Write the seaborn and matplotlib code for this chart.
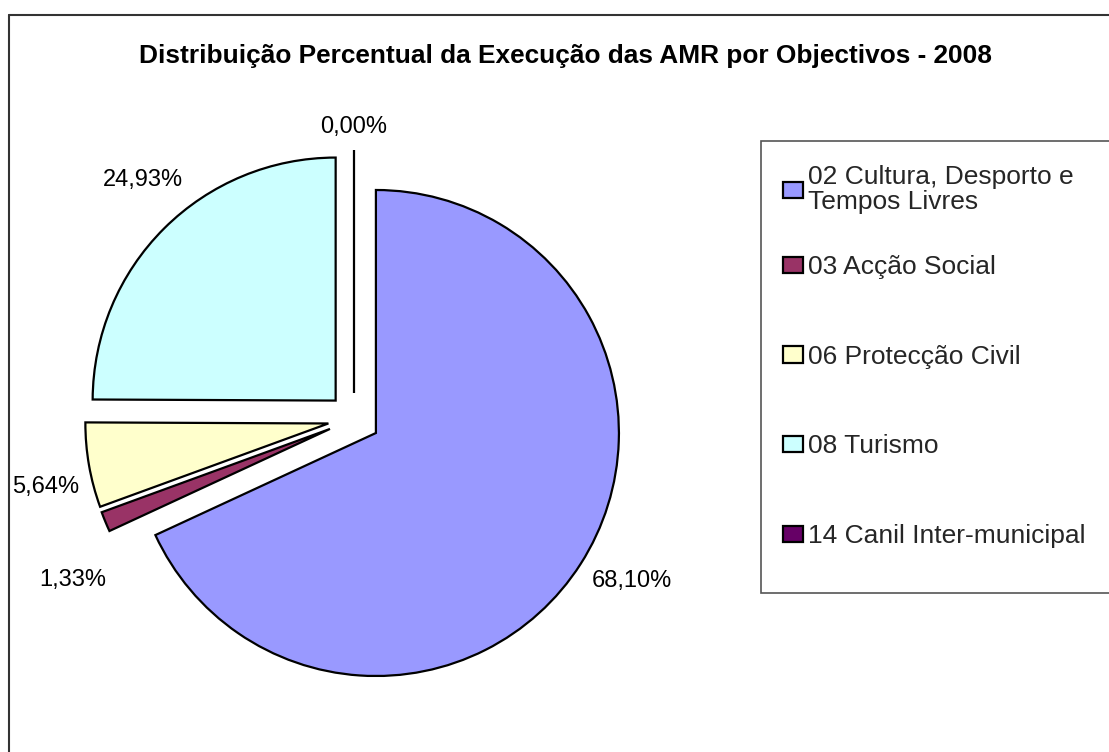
import matplotlib
matplotlib.use("Agg")
import matplotlib.pyplot as plt
from matplotlib.lines import Line2D
from matplotlib.patches import Rectangle
from matplotlib.transforms import offset_copy
import seaborn as sns

# ---- data ----
categories = [
    "02 Cultura, Desporto e\nTempos Livres",
    "03 Acção Social",
    "06 Protecção Civil",
    "08 Turismo",
    "14 Canil Inter-municipal",
]
values = [68.10, 1.33, 5.64, 24.93, 0.00]
colors = ["#9999FF", "#993366", "#FFFFCC", "#CCFFFF", "#660066"]
title = "Distribuição Percentual da Execução das AMR por Objectivos - 2008"

# label nudges (pixels, x right / y down) to mimic the original label placement
label_nudges = [(10, -9), (12, 40), (5, 13), (13, -14), (0, 26)]

sns.set_theme(style="white")
plt.rcParams["font.family"] = ["Liberation Sans", "DejaVu Sans"]

W, H = 1109, 752
fig = plt.figure(figsize=(W / 100, H / 100), dpi=100)
ax = fig.add_axes([0, 0, 1, 1])

cx, cy, R = 354, 419, 243  # pixel geometry of the pie


def fmt(p):
    return f"{p:.2f}%".replace(".", ",")


wedges, texts, autotexts = ax.pie(
    values,
    colors=colors,
    startangle=90,
    counterclock=False,
    explode=[0.107] * len(values),
    autopct=fmt,
    pctdistance=1.2,
    radius=1,
    wedgeprops=dict(edgecolor="black", linewidth=1.6),
    textprops=dict(fontsize=17, color="black"),
)
for t, (dx, dy) in zip(autotexts, label_nudges):
    t.set_transform(offset_copy(ax.transData, fig=fig, x=dx, y=-dy, units="dots"))

ax.set_xlim(-cx / R, (W - cx) / R)
ax.set_ylim(-(H - cy) / R, cy / R)
ax.set_aspect("auto")
ax.axis("off")

# title
fig.text(565 / W, 1 - 56 / H, title, ha="center", va="center",
         fontsize=18.9, fontweight="bold", color="black")

# legend frame
fig.add_artist(Rectangle((761 / W, 1 - 593 / H), (1125 - 761) / W, (593 - 141) / H,
                         transform=fig.transFigure, facecolor="white",
                         edgecolor="#555555", lw=1.2, zorder=0.5))

leg_kw = dict(loc="upper left", borderaxespad=0, frameon=False,
              fontsize=19, borderpad=0, handlelength=0.76, handleheight=0.57,
              handletextpad=0.2)
leg1 = fig.legend(wedges[:1], categories[:1],
                  bbox_to_anchor=(783 / W, 1 - 165 / H), **leg_kw)
leg1.get_texts()[0].set_linespacing(1.06)
leg2 = fig.legend(wedges[1:], categories[1:],
                  bbox_to_anchor=(783 / W, 1 - 255 / H), labelspacing=2.49, **leg_kw)

# chart area border (top and left visible)
fig.add_artist(Line2D([9 / W, 1.0], [1 - 15 / H, 1 - 15 / H],
                      transform=fig.transFigure, color="#333333", lw=1.5))
fig.add_artist(Line2D([9 / W, 9 / W], [0, 1 - 15 / H],
                      transform=fig.transFigure, color="#333333", lw=1.5))

fig.savefig("out.png", dpi=100, facecolor="white")
